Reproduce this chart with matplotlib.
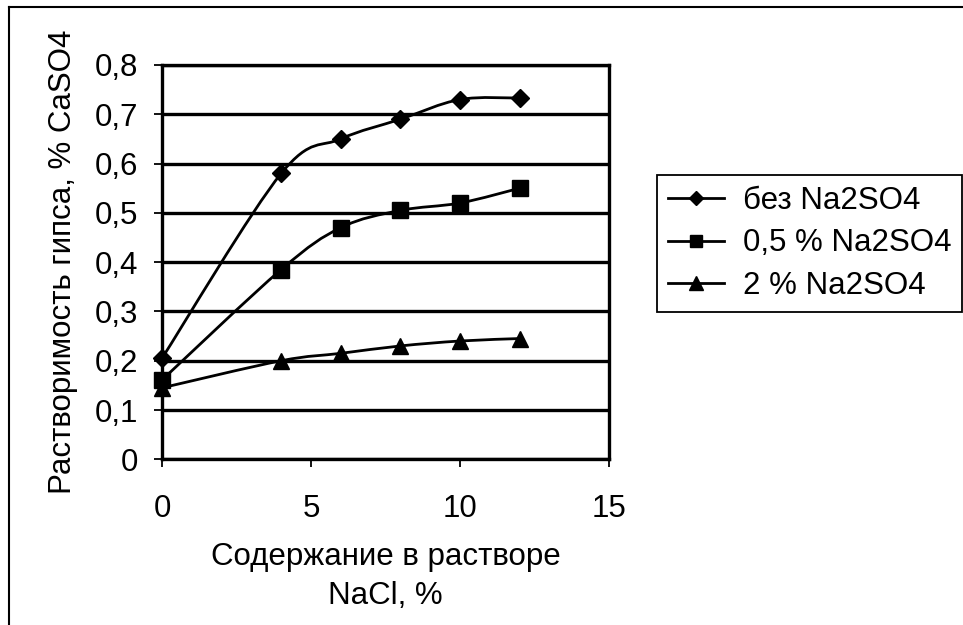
import matplotlib
matplotlib.use('Agg')
import matplotlib.pyplot as plt
import numpy as np
from matplotlib.path import Path
from matplotlib.patches import PathPatch
from matplotlib.lines import Line2D

plt.rcParams['font.family'] = ['Liberation Sans', 'DejaVu Sans']

# data
naclPct = [0, 4, 6, 8, 10, 12]
noSulfate = [0.205, 0.58, 0.65, 0.69, 0.73, 0.733]
halfPctSulfate = [0.161, 0.385, 0.47, 0.505, 0.52, 0.55]
twoPctSulfate = [0.145, 0.20, 0.215, 0.23, 0.24, 0.245]
seriesNames = ['без Na2SO4', '0,5 % Na2SO4', '2 % Na2SO4']
seriesMarkers = ['D', 's', '^']
markerSizes = [9, 11.5, 12]
xTicks = [0, 5, 10, 15]
yTicks = [0, 0.1, 0.2, 0.3, 0.4, 0.5, 0.6, 0.7, 0.8]
yTickLabels = ['0', '0,1', '0,2', '0,3', '0,4', '0,5', '0,6', '0,7', '0,8']
xLabel = 'Содержание в растворе\nNaCl, %'
yLabel = 'Растворимость гипса, % CaSO4'

fontSize = 22.5
W, H = 963, 625


def smoothPath(x, y):
    # excel-like smoothed line (catmull-rom as cubic bezier)
    pts = np.column_stack([x, y]).astype(float)
    n = len(pts)
    verts = [pts[0]]
    codes = [Path.MOVETO]
    for i in range(n - 1):
        p0 = pts[i - 1] if i > 0 else pts[i]
        p1 = pts[i]
        p2 = pts[i + 1]
        p3 = pts[i + 2] if i + 2 < n else pts[i + 1]
        verts += [p1 + (p2 - p0) / 6, p2 - (p3 - p1) / 6, p2]
        codes += [Path.CURVE4] * 3
    return Path(verts, codes)


fig = plt.figure(figsize=(W / 100, H / 100), dpi=100)
fig.patch.set_facecolor('white')

# chart area border (top and left visible)
fig.add_artist(Line2D([9 / W, 1], [1 - 7 / H, 1 - 7 / H], transform=fig.transFigure, color='black', lw=1.5))
fig.add_artist(Line2D([9 / W, 9 / W], [0, 1 - 7 / H], transform=fig.transFigure, color='black', lw=1.5))

ax = fig.add_axes([162 / W, 165.7 / H, 447 / W, 394.3 / H])

handles = []
for ys, name, m, ms in zip([noSulfate, halfPctSulfate, twoPctSulfate], seriesNames, seriesMarkers, markerSizes):
    patch = PathPatch(smoothPath(naclPct, ys), facecolor='none', edgecolor='black', lw=2, clip_on=False, zorder=3)
    ax.add_patch(patch)
    ax.plot(naclPct, ys, linestyle='none', marker=m, markersize=ms, color='black', clip_on=False, zorder=4)
    handles.append(Line2D([], [], color='black', lw=2, marker=m, markersize=ms * 0.8, label=name))

ax.set_xlim(0, 15)
ax.set_ylim(0, 0.8)
ax.set_xticks(xTicks)
ax.set_xticklabels([str(t) for t in xTicks])
ax.set_yticks(yTicks)
ax.set_yticklabels(yTickLabels)
ax.yaxis.grid(True, color='black', lw=2.4)
ax.set_axisbelow(True)
for s in ax.spines.values():
    s.set_linewidth(2.4)
    s.set_color('black')
ax.tick_params(axis='both', direction='out', length=6, width=1.3, colors='black', labelsize=fontSize)
ax.tick_params(axis='y', pad=11)
ax.tick_params(axis='x', pad=19)

ax.set_xlabel(xLabel, fontsize=fontSize, labelpad=13, linespacing=1.38)
ax.set_ylabel(yLabel, fontsize=fontSize, labelpad=12)

leg = ax.legend(handles=handles, loc='upper left', bbox_to_anchor=(657 / W, 1 - 175 / H),
                bbox_transform=fig.transFigure, frameon=True, fancybox=False, edgecolor='black',
                framealpha=1, borderpad=0.35, handlelength=1.8, handletextpad=0.6,
                labelspacing=0.4, fontsize=fontSize, borderaxespad=0)
leg.get_frame().set_linewidth(1.3)

plt.savefig('out.png', dpi=100, facecolor='white')
